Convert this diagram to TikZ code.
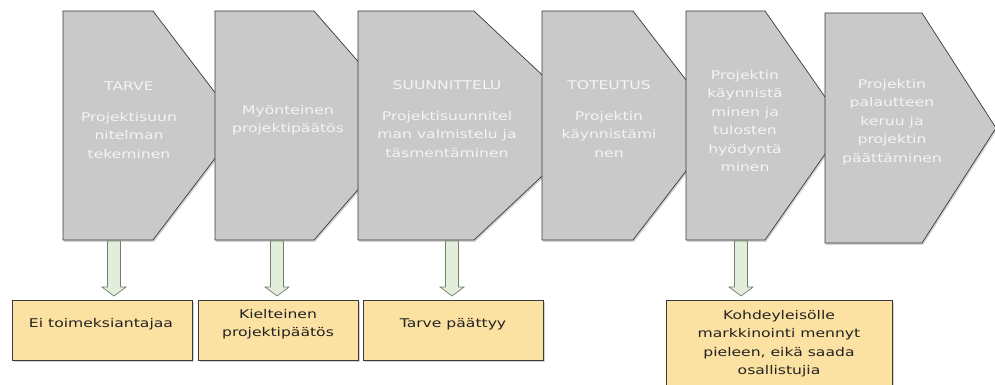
\documentclass[tikz,border=0pt]{standalone}
\usepackage{fontspec}
\newfontfamily\dvs[FakeStretch=1.3]{DejaVu Sans}
\usetikzlibrary{shadows}
\definecolor{chevfill}{HTML}{C9C9C9}
\definecolor{chevtext}{HTML}{F4F4F4}
\definecolor{boxfill}{HTML}{FBE2A2}
\definecolor{arrfill}{HTML}{E2EEDA}
\definecolor{arrdraw}{HTML}{6F806C}
\definecolor{edgecol}{HTML}{3A3A3A}
\definecolor{boxtext}{HTML}{222222}
\begin{document}
\begin{tikzpicture}[x=1pt,y=-1pt,
  shade/.style={drop shadow={shadow xshift=1.2pt, shadow yshift=-1.8pt, opacity=0.35}},
  chev/.style={fill=chevfill, draw=edgecol, line width=0.7pt, shade},
  chevlabel/.style={text=chevtext, font=\dvs\fontsize{12}{18.5}\selectfont, align=center, inner sep=0pt},
  outbox/.style={fill=boxfill, draw=edgecol, line width=0.7pt, shade, anchor=north west, inner sep=0pt},
  outlabel/.style={text=boxtext, font=\dvs\fontsize{12}{18.5}\selectfont, align=center, inner sep=0pt},
  garrow/.style={fill=arrfill, draw=arrdraw, line width=0.7pt},
  blockarrow/.pic={\path[garrow] (-6.5,241) -- (6.5,241) -- (6.5,287) -- (12,287) -- (0,296) -- (-12,287) -- (-6.5,287) -- cycle;}
]
\useasboundingbox (0,0) rectangle (995,385);
\clip (0,0) rectangle (995,385);

% chevrons (drawn left to right, each over the previous)
\path[chev] (63,11) -- (153,11) -- (240,125.5) -- (153,240) -- (63,240) -- cycle;
\path[chev] (215,11) -- (314,11) -- (414,125.5) -- (314,240) -- (215,240) -- cycle;
\path[chev] (358,11) -- (474,11) -- (596,125.5) -- (474,240) -- (358,240) -- cycle;
\path[chev] (542,11) -- (633,11) -- (721,125.5) -- (633,240) -- (542,240) -- cycle;
\path[chev] (686,11) -- (765,11) -- (845,125.5) -- (765,240) -- (686,240) -- cycle;
\path[chev] (825,13) -- (922,13) -- (996,128) -- (922,243) -- (825,243) -- cycle;

\node[chevlabel] (t1) at (129,120) {TARVE\\[12.5pt]Projektisuun\\nitelman\\tekeminen};
\node[chevlabel] (t2) at (288,120) {Myönteinen\\projektipäätös};
\node[chevlabel] (t3) at (447,119) {SUUNNITTELU\\[12.5pt]Projektisuunnitel\\man valmistelu ja\\täsmentäminen};
\node[chevlabel] (t4) at (609,119) {TOTEUTUS\\[12.5pt]Projektin\\käynnistämi\\nen};
\node[chevlabel] (t5) at (745,121) {Projektin\\käynnistä\\minen ja\\tulosten\\hyödyntä\\minen};
\node[chevlabel] (t6) at (892,122) {Projektin\\palautteen\\keruu ja\\projektin\\päättäminen};

% green block arrows
\pic at (114,0) {blockarrow};
\pic at (277,0) {blockarrow};
\pic at (452,0) {blockarrow};
\pic at (741,0) {blockarrow};

% result boxes
\node[outbox, minimum width=180pt, minimum height=60pt] (b1) at (12,300) {};
\node[outbox, minimum width=160pt, minimum height=60pt] (b2) at (198,300) {};
\node[outbox, minimum width=180pt, minimum height=60pt] (b3) at (363,300) {};
\node[outbox, minimum width=226pt, minimum height=95pt] (b4) at (666,300) {};

\node[outlabel] (l1) at (101,324) {Ei toimeksiantajaa};
\node[outlabel] (l2) at (278,324) {Kielteinen\\projektipäätös};
\node[outlabel] (l3) at (453,324) {Tarve päättyy};
\node[outlabel] (l4) at (779,343.5) {Kohdeyleisölle\\markkinointi mennyt\\pieleen, eikä saada\\osallistujia};
\end{tikzpicture}
\end{document}
